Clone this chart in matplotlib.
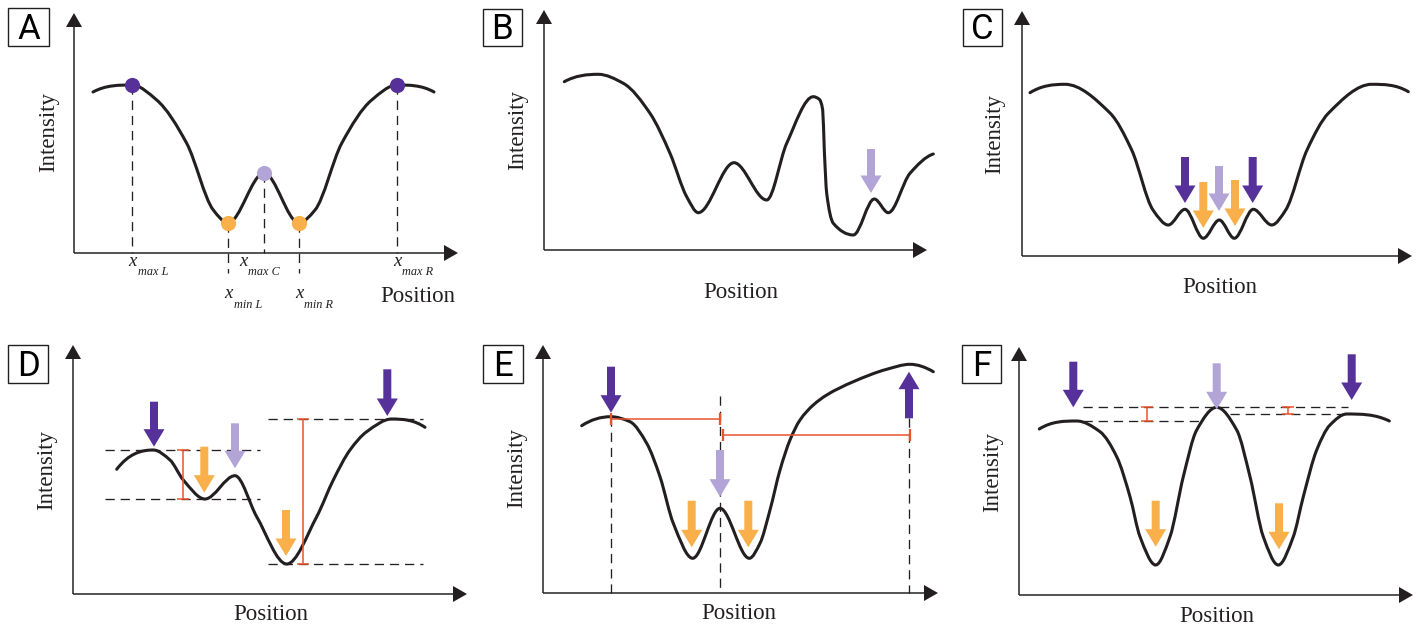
import numpy as np
import matplotlib.pyplot as plt
from matplotlib.path import Path
from matplotlib.patches import PathPatch, FancyArrow, Rectangle

plt.rcParams['font.family'] = ['Liberation Serif', 'DejaVu Serif']

INK = '#231f20'
DARK = '#56319a'
LIGHT = '#b3a4d8'
ORANGE = '#f9b04a'
RED = '#e8552b'

# ---- A: profile with the five labelled extrema
a_pos = [19, 58, 82.7, 112.7, 139.3, 154, 190, 225, 241, 267.7, 297.7, 323, 360]
a_int = [161, 168, 153, 109.7, 43, 30, 80, 30, 43, 109.7, 153, 168, 161]
a_max_idx = [1, 11]
a_mid_idx = [6]
a_min_idx = [5, 7]
a_label_idx = [1, 5, 6, 7, 11]
a_label_sub = ['max L', 'min L', 'max C', 'min R', 'max R']

# ---- B: irregular profile, one weak central maximum
b_pos = [20.3, 54.3, 79.3, 106, 126, 142.7, 154.3, 190, 222.7, 242.7, 269.3,
         275.3, 278.7, 280.3, 282.7, 289.3, 309.3, 330.3, 344.3, 366, 389.3]
b_int = [168.3, 175.7, 166.7, 136.7, 96.7, 53.3, 37.3, 87.3, 50, 106.7, 153.3,
         150.7, 140, 100, 56.7, 26.7, 15, 51, 37.3, 76.7, 96]
b_arrows = [(327, 101, 57, 'light')]

# ---- C: ripple inside a wide minimum
c_pos = [8, 43, 88, 109.7, 131, 146.3, 163, 181.3, 197.3, 212.3, 231.3, 249.7,
         263.7, 285, 306.6, 349.7, 386.3]
c_int = [163.3, 171.7, 143, 106, 46, 31, 46.7, 17.7, 36, 17.7, 46.7, 31,
         46, 106, 143, 171.7, 164.3]
c_arrows = [(197, 90, 45, 'light'),
            (181.3, 74, 28, 'orange'), (213, 76, 30, 'orange'),
            (163, 99, 53, 'dark'), (230.7, 99, 53, 'dark')]

# ---- D: depth of each minimum against its neighbouring maxima
d_pos = [43.7, 80.3, 97, 110.3, 132, 162, 183.7, 213.7, 243.7, 260.3, 277,
         293.7, 318.7, 352]
d_int = [124.7, 144, 134, 114, 95, 118.3, 77.3, 30, 77.3, 114, 144, 162.3,
         175, 166.7]
d_levels = [(144, 32, 187), (95, 32, 187), (175, 195, 350), (30, 195, 350)]
d_spans = [(110.3, 95, 144), (230.3, 30, 175)]
d_arrows = [(162, 170.7, 125.7, 'light'),
            (131.3, 147.3, 101.3, 'orange'), (213, 84, 38, 'orange'),
            (81, 192.3, 147.3, 'dark'), (314.3, 224.7, 178, 'dark')]

# ---- E: distances from the central maximum to the outer maxima
e_pos = [38.7, 67.7, 87, 103.7, 117, 130.3, 149.7, 177, 206.3, 217, 227, 237,
         247, 257, 270.3, 283.7, 310.3, 343.7, 367, 390.3]
e_int = [167.3, 176.3, 171.3, 149.7, 116.3, 69.7, 34.7, 84.7, 34.7, 49.7, 83,
         123, 153, 173, 188, 198, 211.3, 223.7, 228.7, 221.3]
e_marks = [(67.7, 176.3), (177, 197), (366, 174.7)]
e_gaps = [(173.7, 67.7, 177), (158, 179.7, 367)]
e_arrows = [(177, 143, 96.3, 'light'),
            (148.7, 92.3, 45.7, 'orange'), (205.3, 92.3, 45.7, 'orange'),
            (68, 226.3, 180.3, 'dark'), (366, 174.7, 221.3, 'dark')]

# ---- F: central maximum above both outer maxima
f_pos = [20.3, 57.7, 81, 97.7, 111, 121, 136.7, 151, 164.3, 177.7, 197.7,
         217.7, 231, 244.3, 259.3, 274.3, 284.3, 297.7, 311, 327.7, 370.3]
f_int = [166, 174, 163.3, 138.3, 98.3, 58.3, 30, 58.3, 118.3, 165, 187.7,
         165, 118.3, 58.3, 30, 58.3, 98.3, 145, 170, 181, 174]
f_levels = [(187.7, 64.3, 329.3), (174, 64.3, 184), (181, 211, 329.3)]
f_spans = [(127.7, 174, 187.7), (269.3, 181, 187.7)]
f_arrows = [(197.7, 231.7, 185.7, 'light'),
            (136.7, 94.3, 48.3, 'orange'), (260, 91.7, 45.7, 'orange'),
            (54.3, 233.3, 187.7, 'dark'), (332.7, 240.7, 195, 'dark')]

ARROW_COLORS = {'dark': DARK, 'light': LIGHT, 'orange': ORANGE}

FIG_W, FIG_H = 1419, 628


def end_slope(h0, h1, d0, d1):
    s = ((2 * h0 + h1) * d0 - h0 * d1) / (h0 + h1)
    if np.sign(s) != np.sign(d0):
        s = 0.0
    elif np.sign(d0) != np.sign(d1) and abs(s) > abs(3 * d0):
        s = 3 * d0
    return s


def smooth_path(xs, ys):
    # monotone cubic through the anchor points, handed to matplotlib as Bezier segments
    x = np.asarray(xs, float)
    y = np.asarray(ys, float)
    h = np.diff(x)
    d = np.diff(y) / h
    m = np.zeros_like(y)
    for k in range(1, len(x) - 1):
        if d[k - 1] * d[k] > 0:
            w1 = 2 * h[k] + h[k - 1]
            w2 = h[k] + 2 * h[k - 1]
            m[k] = (w1 + w2) / (w1 / d[k - 1] + w2 / d[k])
    m[0] = end_slope(h[0], h[1], d[0], d[1])
    m[-1] = end_slope(h[-1], h[-2], d[-1], d[-2])
    verts = [(x[0], y[0])]
    codes = [Path.MOVETO]
    for i in range(len(h)):
        t = h[i] / 3
        verts += [(x[i] + t, y[i] + m[i] * t),
                  (x[i + 1] - t, y[i + 1] - m[i + 1] * t),
                  (x[i + 1], y[i + 1])]
        codes += [Path.CURVE4] * 3
    return Path(verts, codes)


def panel(fig, letter, ox, oy, w, h, box, ylab, xlab):
    # one unit on either axis is one pixel of the saved figure
    ax = fig.add_axes([ox / FIG_W, 1 - oy / FIG_H, w / FIG_W, h / FIG_H])
    ax.set_xlim(0, w)
    ax.set_ylim(0, h)
    ax.set_axis_off()
    for dx, dy in [(w, 0), (0, h)]:
        ax.add_patch(FancyArrow(0, 0, dx, dy, width=1.5, head_width=16,
                                head_length=14, length_includes_head=True,
                                color=INK, lw=0, clip_on=False))
    ax.text(ylab[0], ylab[1], 'Intensity', rotation=90, ha='center',
            va='center', fontsize=16.5, color=INK)
    ax.text(xlab[0], xlab[1], 'Position', ha='center', va='baseline',
            fontsize=16.5, color=INK)
    bx0, by0, bx1, by1 = box
    fig.add_artist(Rectangle((bx0 / FIG_W, 1 - by1 / FIG_H), (bx1 - bx0) / FIG_W,
                             (by1 - by0) / FIG_H, transform=fig.transFigure,
                             fill=False, ec=INK, lw=1.0))
    fig.text((bx0 + bx1) / 2 / FIG_W, 1 - (by1 - 6.6) / FIG_H, letter,
             ha='center', va='baseline', fontsize=25, family='Roboto',
             color='black')
    return ax


def draw_curve(ax, xs, ys):
    ax.add_patch(PathPatch(smooth_path(xs, ys), fill=False, ec=INK, lw=2.2,
                           capstyle='round', joinstyle='round', zorder=2,
                           clip_on=False))


def draw_arrows(ax, arrows):
    for x, y0, y1, kind in arrows:
        ax.add_patch(FancyArrow(x, y0, 0, y1 - y0, width=8, head_width=21,
                                head_length=17.5, length_includes_head=True,
                                color=ARROW_COLORS[kind], lw=0, zorder=4,
                                clip_on=False))


def dashed(ax, xs, ys):
    ax.plot(xs, ys, color=INK, lw=0.95, ls=(0, (7, 4.5)), zorder=1,
            clip_on=False)


def vspan(ax, spans):
    for x, lo, hi in spans:
        ax.errorbar([x], [(lo + hi) / 2], yerr=[(hi - lo) / 2], fmt='none',
                    ecolor=RED, elinewidth=1.1, capsize=4.3, capthick=1.1,
                    zorder=3)


fig = plt.figure(figsize=(FIG_W / 100, FIG_H / 100), dpi=100)

# A
ax = panel(fig, 'A', 74, 253, 384, 240, (8, 8, 49, 46), (-25.7, 120.5), (344, -49.3))
draw_curve(ax, a_pos, a_int)
for i in a_max_idx + a_mid_idx:
    dashed(ax, [a_pos[i], a_pos[i]], [a_int[i], 0])
for i in a_min_idx:
    dashed(ax, [a_pos[i], a_pos[i]], [a_int[i], -20])
ax.scatter([a_pos[i] for i in a_max_idx], [a_int[i] for i in a_max_idx],
           s=120, color=DARK, zorder=5, lw=0, clip_on=False)
ax.scatter([a_pos[i] for i in a_mid_idx], [a_int[i] for i in a_mid_idx],
           s=120, color=LIGHT, zorder=5, lw=0, clip_on=False)
ax.scatter([a_pos[i] for i in a_min_idx], [a_int[i] for i in a_min_idx],
           s=120, color=ORANGE, zorder=5, lw=0, clip_on=False)
for i, sub in zip(a_label_idx, a_label_sub):
    shift = -21 if sub == 'max C' else 0
    base = -45 if sub.startswith('min') else -12.7
    xc = a_pos[i] + shift
    ax.text(xc, base, 'x', style='italic', fontsize=13.5, ha='center',
            va='baseline', color=INK)
    ax.text(xc + 5.5, base - 9.5, sub, style='italic', fontsize=8.8,
            ha='left', va='baseline', color=INK)

# B
ax = panel(fig, 'B', 544, 250, 383, 240, (483, 9, 522, 46), (-26, 120), (196.8, -48))
draw_curve(ax, b_pos, b_int)
draw_arrows(ax, b_arrows)

# C
ax = panel(fig, 'C', 1022, 256, 390, 245, (963, 9, 1002, 46), (-27, 122), (197.7, -37.3))
draw_curve(ax, c_pos, c_int)
draw_arrows(ax, c_arrows)

# D
ax = panel(fig, 'D', 73, 594, 394, 249, (8, 345, 48, 383), (-26.3, 124), (197.5, -26))
for y, x0, x1 in d_levels:
    dashed(ax, [x0, x1], [y, y])
draw_curve(ax, d_pos, d_int)
vspan(ax, d_spans)
draw_arrows(ax, d_arrows)

# E
ax = panel(fig, 'E', 543, 593, 395, 248, (483, 345, 523, 383), (-26.3, 125), (195.8, -26.3))
for x, top in e_marks:
    dashed(ax, [x, x], [top, 0])
draw_curve(ax, e_pos, e_int)
for y, x0, x1 in e_gaps:
    ax.errorbar([(x0 + x1) / 2], [y], xerr=[(x1 - x0) / 2], fmt='none',
                ecolor=RED, elinewidth=1.1, capsize=4.3, capthick=1.6,
                zorder=3)
draw_arrows(ax, e_arrows)

# F
ax = panel(fig, 'F', 1019, 595, 394, 248, (962, 345, 1001, 383), (-26.3, 123.3), (197.7, -26.7))
for y, x0, x1 in f_levels:
    dashed(ax, [x0, x1], [y, y])
draw_curve(ax, f_pos, f_int)
vspan(ax, f_spans)
draw_arrows(ax, f_arrows)

fig.savefig('out.png', dpi=100)
